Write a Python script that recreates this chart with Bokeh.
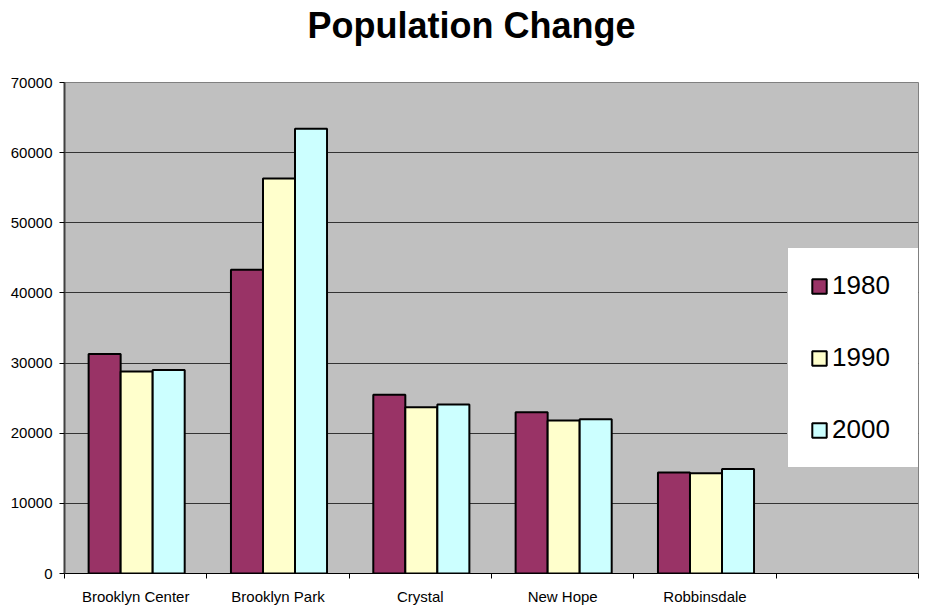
import numpy as np
from bokeh.plotting import figure
from bokeh.models import ColumnDataSource, FixedTicker, Legend, LegendItem, Range1d
from bokeh.transform import dodge
from bokeh.embed import file_html
from bokeh.resources import INLINE

title_text = "Population Change"
cities = ["Brooklyn Center", "Brooklyn Park", "Crystal", "New Hope", "Robbinsdale"]
years = ["1980", "1990", "2000"]
pop_1980 = [31300, 43300, 25500, 23000, 14400]
pop_1990 = [28800, 56300, 23700, 21800, 14300]
pop_2000 = [29000, 63400, 24100, 22000, 14900]
colors = ["#993366", "#FFFFCC", "#CCFFFF"]
y_ticks = [0, 10000, 20000, 30000, 40000, 50000, 60000, 70000]
n_slots = 6  # five cities plus one empty slot

pos = list(range(len(cities)))
src = ColumnDataSource(dict(pos=pos, y1980=pop_1980, y1990=pop_1990, y2000=pop_2000))

p = figure(width=932, height=607, output_backend="svg", toolbar_location=None,
           x_range=Range1d(-0.5, n_slots - 0.5), y_range=Range1d(0, 70000),
           min_border_left=64, min_border_right=14, min_border_top=82, min_border_bottom=32)

p.background_fill_color = "#C0C0C0"
p.border_fill_color = "white"
p.outline_line_color = "#808080"
p.outline_line_width = 1

bw = 0.225
renderers = []
for k, (yr, col) in enumerate(zip(years, colors)):
    r = p.vbar(x=dodge("pos", (k - 1) * bw + 0.007, range=p.x_range), top="y" + yr, width=bw,
               source=src, fill_color=col, line_color="black", line_width=2)
    renderers.append(r)

# title
p.title.text = title_text
p.title.text_font = "Liberation Sans"
p.title.text_font_size = "36px"
p.title.text_font_style = "bold"
p.title.align = "left"
p.title.offset = 243
p.title.standoff = 0
p.title.vertical_align = "bottom"
p.title.padding = dict(top=0, right=0, bottom=37, left=0)
p.title.text_color = "black"

# x axis
xa = p.xaxis[0]
xa.ticker = FixedTicker(ticks=pos, minor_ticks=[i - 0.5 for i in range(n_slots + 1)])
xa.major_label_overrides = {i: c for i, c in zip(pos, cities)}
xa.major_tick_in = 0
xa.major_tick_out = 0
xa.minor_tick_in = 0
xa.minor_tick_out = 5
xa.minor_tick_line_color = "black"
xa.axis_line_color = "black"
xa.axis_line_width = 1
xa.major_label_text_font = "Liberation Sans"
xa.major_label_text_font_size = "15px"
xa.major_label_text_color = "black"
xa.major_label_standoff = 9

# y axis
ya = p.yaxis[0]
ya.ticker = FixedTicker(ticks=y_ticks)
ya.minor_tick_line_color = None
ya.major_tick_in = 0
ya.major_tick_out = 5
ya.major_tick_line_color = "black"
ya.axis_line_color = "#404040"
ya.axis_line_width = 2
ya.major_label_text_font = "Liberation Sans"
ya.major_label_text_font_size = "15px"
ya.major_label_text_color = "black"
ya.major_label_standoff = 7

p.xgrid.grid_line_color = None
p.ygrid.grid_line_color = "#333333"
p.ygrid.grid_line_width = 1

legend = Legend(items=[LegendItem(label=yr, renderers=[r]) for yr, r in zip(years, renderers)],
                location=(723, 105))
legend.label_text_font = "Liberation Sans"
legend.label_text_font_size = "26px"
legend.label_text_color = "black"
legend.glyph_width = 18
legend.glyph_height = 18
legend.label_height = 26
legend.label_width = 66
legend.label_standoff = 4
legend.spacing = 41
legend.padding = 22
legend.margin = 0
legend.border_line_color = "#808080"
legend.border_line_width = 1
legend.background_fill_color = "white"
legend.background_fill_alpha = 1
p.add_layout(legend, "center")

open("out.html", "w").write(file_html(p, INLINE))
